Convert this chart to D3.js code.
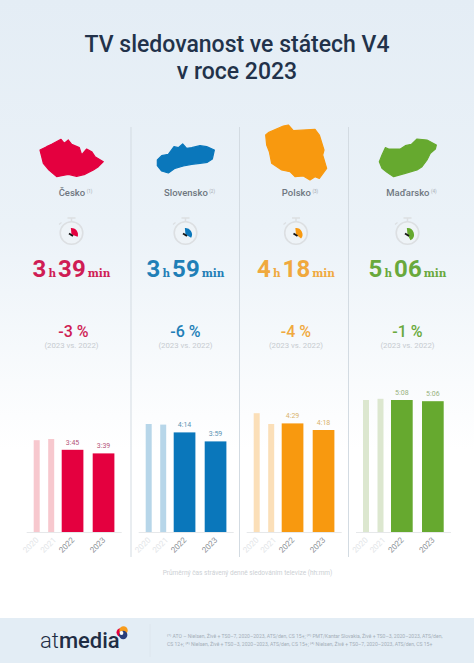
<!DOCTYPE html>
<html lang="cs"><head><meta charset="utf-8">
<script src="https://cdn.jsdelivr.net/npm/d3@7/dist/d3.min.js"></script>
<style>html,body{margin:0;padding:0;background:#fff}svg{display:block}text{font-family:Roboto,sans-serif}</style>
</head><body><svg id="c" width="474" height="663"></svg>
<script>
const countries = ["Česko","Slovensko","Polsko","Maďarsko"];
const notes = ["(1)","(2)","(3)","(4)"];
const years = ["2020","2021","2022","2023"];
const minutes2020 = [241,268,286,308];
const minutes2021 = [243,267,268,310];
const minutes2022 = [225,254,269,308];
const minutes2023 = [219,239,258,306];
const changes = ["-3 %","-6 %","-4 %","-1 %"];
const compareLabel = "(2023 vs. 2022)";
const titleLines = ["TV sledovanost ve státech V4","v roce 2023"];
const axisNote = "Průměrný čas strávený denně sledováním televize (hh:mm)";
const footLines = [
 "⁽¹⁾ ATO – Nielsen, Živě + TS0–7, 2020–2023, ATS/den, CS 15+; ⁽²⁾ PMT/Kantar Slovakia, Živě + TS0–3, 2020–2023, ATS/den,",
 "CS 12+; ⁽³⁾ Nielsen, Živě + TS0–3, 2020–2023, ATS/den, CS 15+; ⁽⁴⁾ Nielsen, Živě + TS0–7, 2020–2023, ATS/den, CS 15+"];
const strong = ["#e4003f","#0a77bb","#f8990f","#66a92f"];
const soft = ["#f7c8ce","#b7d6e9","#fbdfb8","#dce7cf"];
const ink = ["#cf1d55","#1f7fb7","#f0a93e","#69a93c"];
const labelInk = ["#b5557a","#5b93b3","#d9b36c","#98b27e"];
const outlines = [
 [[15,45],[35,35],[50,28],[78,13],[88,25],[100,15],[110,28],[133,38],[140,60],[155,42],[170,50],[180,65],[205,80],[190,95],[175,105],[150,118],[125,124],[100,118],[80,122],[65,125],[42,105],[25,85],[20,65]],
 [[22,75],[35,62],[55,58],[72,35],[85,38],[98,27],[110,40],[125,38],[150,32],[170,35],[193,45],[187,72],[172,82],[150,85],[125,88],[100,93],[75,100],[55,114],[35,108],[22,92]],
 [[17,45],[25,38],[70,18],[85,15],[100,32],[165,28],[178,45],[192,90],[188,105],[200,145],[178,175],[165,170],[150,180],[130,168],[105,170],[90,155],[65,150],[35,130],[28,95],[20,75]],
 [[22,80],[30,60],[40,38],[50,42],[85,42],[100,32],[118,28],[135,12],[165,15],[193,30],[190,42],[175,55],[165,75],[150,95],[135,105],[100,115],[65,125],[45,112],[30,100]]
];
const outlineOrigin = [[35,135],[150,135],[260,120],[372,135]];

const svg = d3.select("#c");
const defs = svg.append("defs");
const g = defs.append("linearGradient").attr("id","bg").attr("x1",0).attr("x2",0).attr("y1",0).attr("y2",1);
g.append("stop").attr("offset",0).attr("stop-color","#e4edf5");
g.append("stop").attr("offset",0.5).attr("stop-color","#ebf2f8");
g.append("stop").attr("offset",1).attr("stop-color","#ffffff");
svg.append("rect").attr("width",474).attr("height",663).attr("fill","#fff");
svg.append("rect").attr("width",474).attr("height",450).attr("fill","url(#bg)");
svg.append("rect").attr("y",618).attr("width",474).attr("height",45).attr("fill","#e3edf5");

svg.selectAll(".t").data(titleLines).join("text").attr("class","t")
 .attr("x",237).attr("y",(d,i)=>52+i*27).attr("text-anchor","middle")
 .attr("font-size",23).attr("font-weight",500).attr("fill","#22324a").text(d=>d);

svg.selectAll(".div").data([131,239.5,348.5]).join("line").attr("class","div")
 .attr("x1",d=>d).attr("x2",d=>d).attr("y1",127).attr("y2",557)
 .attr("stroke","#d3dbe2").attr("stroke-width",1);

const y = d3.scaleLinear().domain([88,308]).range([532,400]);
const chartLeft = [33.7,145.7,253.7,363];
const offset = d3.scaleOrdinal(years,[0,14.5,28,59]);
const width = d3.scaleOrdinal(years,[6,6,21.7,21.7]);
const tickShift = d3.scaleOrdinal(years,[-4,-1,-4,-4]);
const colX = [71.5,185.5,296,407.5];
const line = d3.line().curve(d3.curveLinearClosed);
const arc = d3.arc();
const series = [minutes2020,minutes2021,minutes2022,minutes2023];
const fmt = m => Math.floor(m/60)+":"+d3.format("02")(m%60);

countries.forEach((name,i)=>{
 const c = svg.append("g");
 const cx = colX[i];
 const [ox,oy] = outlineOrigin[i];
 c.append("path").attr("d",line(outlines[i].map(p=>[ox+p[0]/3,oy+p[1]/3]))).attr("fill",strong[i]).attr("stroke",strong[i]).attr("stroke-width",1.2).attr("stroke-linejoin","round");
 const lab = c.append("text").attr("x",cx+4).attr("y",196).attr("text-anchor","middle").attr("font-size",9.5).attr("font-weight",500).attr("fill","#6f7780");
 lab.append("tspan").text(name);
 lab.append("tspan").attr("font-size",4.5).attr("dy",-3.5).attr("dx",1.5).attr("fill","#b0b6bc").text(notes[i]);
 // stopwatch
 const sy = 233;
 c.append("circle").attr("cx",cx).attr("cy",sy).attr("r",11.3).attr("fill","#eef3f7").attr("stroke","#dcdfe2").attr("stroke-width",1.6);
 c.append("line").attr("x1",cx-4).attr("x2",cx+4).attr("y1",sy-15).attr("y2",sy-15).attr("stroke","#dcdfe2").attr("stroke-width",1.5);
 c.append("line").attr("x1",cx).attr("x2",cx).attr("y1",sy-15).attr("y2",sy-11.5).attr("stroke","#dcdfe2").attr("stroke-width",1.5);
 c.append("line").attr("x1",cx-12.5).attr("x2",cx-10).attr("y1",sy-8.5).attr("y2",sy-10.5).attr("stroke","#dcdfe2").attr("stroke-width",1.3);
 const v = minutes2023[i];
 c.append("path").attr("transform",`translate(${cx},${sy+1.5})`).attr("fill",strong[i])
  .attr("d",arc({innerRadius:0,outerRadius:6.5,startAngle:-0.1,endAngle:v/720*2*Math.PI}));
 c.append("line").attr("x1",cx+1.5).attr("y1",sy+3).attr("x2",cx-2.5).attr("y2",sy+.5).attr("stroke","#151515").attr("stroke-width",1.8);
 // time
 const t = c.append("text").attr("x",cx).attr("y",277).attr("text-anchor","middle").attr("fill",ink[i]).attr("font-weight",700);
 const unit = s => t.append("tspan").attr("font-size",10.5).attr("font-family","'DejaVu Serif',serif").text(s);
 t.append("tspan").attr("font-size",24).text(Math.floor(v/60));
 unit("\u2009h\u2009");
 t.append("tspan").attr("font-size",24).text(d3.format("02")(v%60));
 unit("\u2009min");
 // change
 c.append("text").attr("x",cx+(i===0?2:0)).attr("y",337).attr("text-anchor","middle").attr("font-size",16).attr("font-weight",500).attr("fill",ink[i]).text(changes[i]);
 c.append("text").attr("x",cx).attr("y",348).attr("text-anchor","middle").attr("font-size",7.8).attr("fill","#c6cbd0").text(compareLabel);
 // bars
 const rows = years.map((yr,j)=>({yr,v:series[j][i]}));
 const x = d => chartLeft[i]+offset(d.yr);
 c.selectAll("rect").data(rows).join("rect").attr("x",x).attr("y",d=>y(d.v)).attr("width",d=>width(d.yr))
  .attr("height",d=>y.range()[0]-y(d.v)).attr("fill",(d,j)=>j<2?soft[i]:strong[i]);
 c.append("line").attr("x1",chartLeft[i]-7).attr("x2",chartLeft[i]+88).attr("y1",532.5).attr("y2",532.5).attr("stroke","#e6e8ea");
 c.selectAll(".v").data(rows.slice(2)).join("text").attr("class","v").attr("x",d=>x(d)+width(d.yr)/2).attr("y",d=>y(d.v)-5)
  .attr("text-anchor","middle").attr("font-size",7).attr("fill",labelInk[i]).text(d=>fmt(d.v));
 c.selectAll(".yr").data(rows).join("text").attr("class","yr")
  .attr("transform",d=>`translate(${x(d)+width(d.yr)/2+tickShift(d.yr)},${547}) rotate(-45)`).attr("text-anchor","middle")
  .attr("font-size",8).attr("fill",(d,j)=>j<2?"#e2e5e8":"#8a8f96").text(d=>d.yr);
});

svg.append("text").attr("x",247.5).attr("y",575).attr("text-anchor","middle").attr("font-size",6.5).attr("fill","#ccd0d4").text(axisNote);

const logo = svg.append("text").attr("x",40).attr("y",648).attr("font-size",22).attr("fill","#1f2d44");
logo.append("tspan").attr("font-weight",300).text("at");
logo.append("tspan").attr("font-weight",500).text("media");
const lx=122,ly=633;
[["#e4003f",-1.3,-.5],["#f89c1c",1.5,-2.5],["#2a3f7a",1.2,2]].forEach(([f,dx,dy])=>svg.append("circle").attr("cx",lx+dx).attr("cy",ly+dy).attr("r",4.2).attr("fill",f));
svg.append("circle").attr("cx",lx-.5).attr("cy",ly).attr("r",1.9).attr("fill","#fff");
svg.append("line").attr("x1",150).attr("x2",150).attr("y1",624).attr("y2",657).attr("stroke","#dde6ee");
svg.selectAll(".f").data(footLines).join("text").attr("class","f").attr("x",167).attr("y",(d,i)=>638+i*7.5)
 .attr("font-size",5.05).attr("fill","#a3adb8").text(d=>d);
</script></body></html>
